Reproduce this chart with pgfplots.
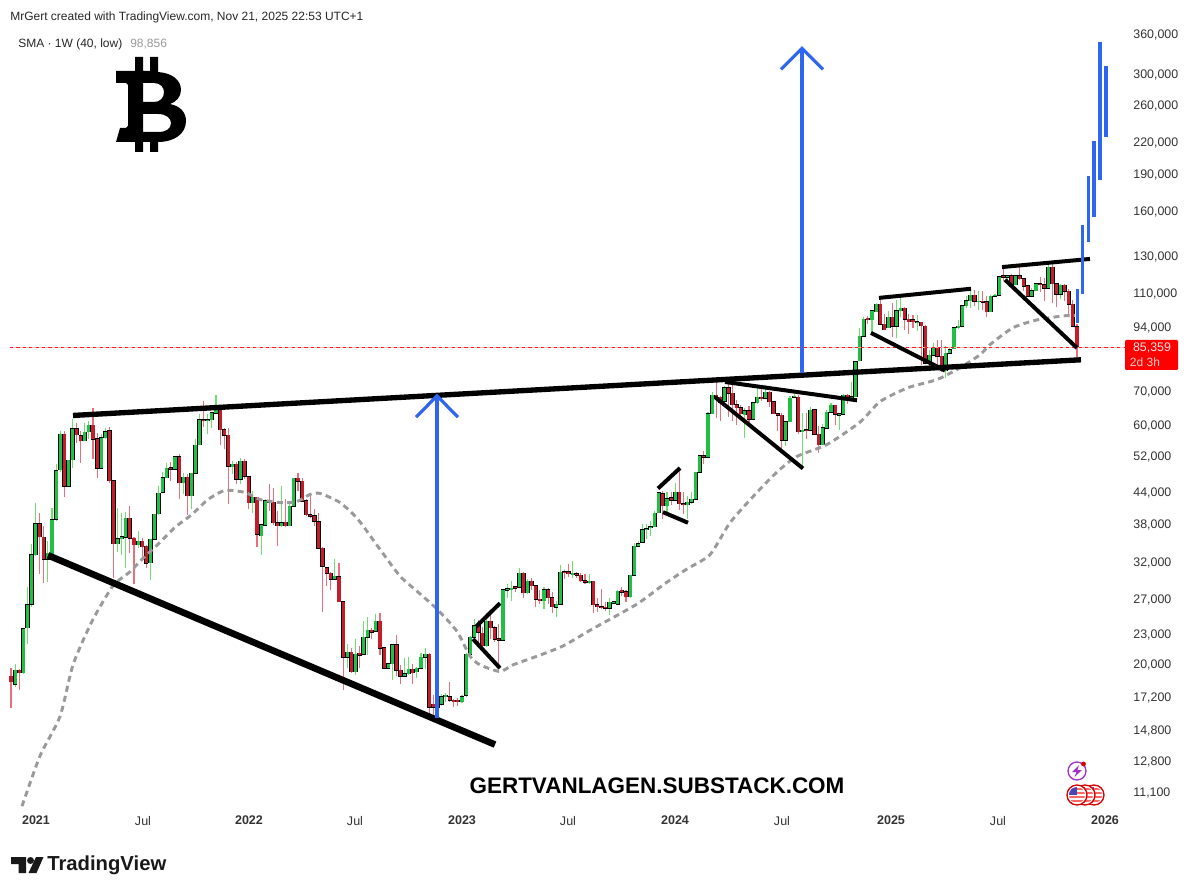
\documentclass[border=0pt]{standalone}
\usepackage{pgfplots}
\usepackage{pgfplotstable}
\usepackage{fontspec}
\setmainfont{Liberation Sans}
\pgfplotsset{compat=1.18}
\definecolor{upbody}{HTML}{1FC044}
\definecolor{dnbody}{HTML}{C41C28}
\definecolor{upwick}{HTML}{6FE06F}
\definecolor{dnwick}{HTML}{E8707C}
\definecolor{tvblue}{HTML}{2E66F0}
\definecolor{smagray}{HTML}{9A9A9A}
\definecolor{labelgray}{HTML}{333333}
\definecolor{lastprice}{HTML}{FF1A1A}
\definecolor{lastpale}{HTML}{F9BDBD}
% weekly candles, prices in thousands of USD: week, up(1)/down(0), low, body low, body high, high
\pgfplotstableread{
i d wl bl bh wh
0 0 16.3 18.4 18.9 19.6
1 1 18.0 18.2 19.4 20.0
2 0 17.7 19.2 19.4 19.5
3 1 19.1 19.2 23.5 23.6
4 1 21.9 23.6 26.2 28.4
5 1 26.0 26.3 33.0 34.7
6 1 32.8 33.0 38.0 41.9
7 0 30.2 35.8 38.0 40.0
8 0 29.0 32.3 35.7 37.7
9 1 29.1 32.3 33.2 35.1
10 1 32.5 32.8 38.7 40.9
11 1 38.5 38.8 48.5 50.0
12 1 48.3 48.7 57.3 58.2
13 0 43.0 45.2 57.3 58.2
14 1 45.0 45.2 50.9 51.0
15 1 49.2 51.0 58.8 61.4
16 0 55.2 57.2 58.8 60.5
17 0 50.3 55.6 57.0 58.2
18 1 55.5 55.6 57.9 60.3
19 1 56.0 58.0 59.7 60.9
20 0 51.1 56.0 59.7 64.7
21 0 47.0 49.0 56.2 57.8
22 1 48.8 49.0 56.4 57.3
23 1 56.0 56.4 58.0 59.1
24 0 45.9 46.3 58.2 59.3
25 0 29.7 34.7 46.3 46.4
26 1 33.4 34.7 35.5 40.9
27 1 33.0 35.5 35.8 40.0
28 1 31.1 35.7 39.0 40.1
29 0 33.3 35.6 39.0 41.2
30 0 28.9 34.5 35.6 35.7
31 1 34.0 34.5 35.1 36.7
32 0 32.2 34.2 35.1 35.6
33 0 31.1 31.7 34.3 34.5
34 1 29.4 31.8 35.4 35.5
35 1 35.3 35.4 39.7 39.8
36 1 39.6 39.8 43.7 45.2
37 1 43.7 43.9 47.0 48.3
38 1 46.8 47.0 49.0 50.3
39 0 46.2 48.8 49.2 50.4
40 1 48.6 48.8 51.7 52.0
41 0 42.5 45.9 51.7 52.3
42 1 43.5 45.9 47.1 48.0
43 0 39.6 43.2 47.1 47.8
44 1 40.6 43.2 47.9 48.0
45 1 47.8 48.0 54.5 56.0
46 1 54.5 54.7 61.3 62.8
47 0 59.4 61.0 61.3 66.9
48 1 57.3 61.0 61.3 62.8
49 1 59.1 61.3 63.2 63.6
50 1 62.8 63.2 65.2 68.6
51 0 54.7 58.6 65.2 65.7
52 0 53.5 57.1 58.6 59.1
53 0 41.7 49.5 57.1 59.1
54 1 47.7 49.4 50.0 50.8
55 0 45.6 46.6 50.0 50.4
56 1 45.6 46.6 50.7 51.5
57 0 46.6 47.3 50.7 51.1
58 0 40.6 41.9 47.2 47.3
59 1 40.0 41.9 42.9 44.2
60 0 34.1 36.2 42.9 43.0
61 1 33.0 36.0 37.8 37.9
62 1 37.7 37.8 42.3 42.6
63 0 40.3 42.0 42.3 45.7
64 0 37.8 38.2 42.0 44.7
65 0 34.3 37.7 38.2 40.3
66 1 37.5 37.7 38.2 45.2
67 0 37.4 37.7 38.3 42.5
68 1 37.6 37.7 41.2 41.9
69 1 41.1 41.2 46.8 46.9
70 0 44.2 46.2 46.8 48.0
71 0 42.0 42.2 46.2 46.9
72 0 39.4 39.6 42.2 42.5
73 0 39.0 39.4 39.6 43.1
74 0 37.6 38.5 39.4 40.7
75 0 33.9 34.0 38.4 40.0
76 0 25.4 31.3 34.0 34.1
77 0 28.6 30.3 31.1 31.2
78 0 28.0 29.5 30.3 30.5
79 1 29.4 29.5 29.9 32.4
80 0 26.5 26.6 29.8 31.7
81 0 17.7 20.6 26.6 26.7
82 1 19.6 20.6 21.1 21.9
83 0 19.2 19.3 21.1 21.5
84 1 19.0 19.3 20.9 22.4
85 0 19.6 20.8 21.0 21.7
86 1 20.8 20.9 22.6 24.3
87 1 20.8 22.6 23.3 24.8
88 0 22.4 23.1 23.3 23.6
89 1 23.1 23.2 24.3 25.1
90 0 20.8 21.5 24.3 25.3
91 0 19.5 19.6 21.5 21.6
92 1 19.5 19.6 20.0 20.1
93 1 18.6 20.0 21.8 21.9
94 0 18.9 19.4 21.8 22.8
95 0 18.2 18.9 19.4 19.9
96 1 18.8 18.9 19.1 20.5
97 1 19.0 19.1 19.5 20.6
98 0 18.2 19.2 19.5 20.0
99 1 18.7 19.3 19.6 19.7
100 1 19.5 19.6 20.6 21.0
101 1 19.5 20.6 20.9 21.5
102 0 15.7 16.4 20.9 21.0
103 0 15.8 16.4 16.6 17.3
104 1 15.6 16.4 16.7 17.3
105 1 16.5 16.6 17.2 17.4
106 1 16.8 17.2 17.3 17.5
107 0 16.8 16.9 17.2 18.4
108 0 16.4 16.8 16.9 17.0
109 0 16.5 16.8 16.9 17.1
110 1 16.7 16.8 17.2 17.3
111 1 17.2 17.3 20.9 21.0
112 1 20.8 20.9 22.6 22.7
113 1 22.6 22.6 23.8 24.6
114 0 21.7 23.1 23.8 24.4
115 0 21.4 21.7 23.0 23.7
116 1 21.6 21.7 24.3 25.3
117 0 22.4 23.6 24.3 25.1
118 0 22.1 22.4 23.6 23.8
119 0 19.6 22.3 22.4 24.0
120 1 22.2 22.3 28.1 28.2
121 1 27.1 28.0 28.2 28.9
122 1 26.7 28.1 28.3 29.2
123 0 27.8 28.3 28.5 28.6
124 1 28.3 28.4 30.3 31.0
125 0 27.1 27.7 30.3 30.4
126 1 27.6 27.7 29.2 29.5
127 0 28.1 28.6 29.2 29.7
128 0 25.9 26.9 28.6 28.7
129 0 26.3 26.7 26.9 28.0
130 1 25.7 26.7 28.1 28.4
131 0 26.3 27.1 28.1 28.3
132 0 25.3 26.0 27.1 27.8
133 1 24.8 25.9 26.3 26.7
134 1 26.2 26.3 30.4 31.5
135 0 29.5 30.4 30.5 30.7
136 0 29.8 30.2 30.5 31.6
137 1 29.6 30.1 30.3 32.0
138 0 29.7 30.0 30.2 30.4
139 0 29.1 29.3 30.0 30.3
140 0 28.9 29.1 29.3 30.2
141 1 28.8 29.0 29.2 30.2
142 0 25.3 26.2 29.2 29.3
143 0 25.4 26.0 26.2 27.1
144 0 25.7 25.9 26.0 28.2
145 0 25.5 25.8 25.9 26.6
146 1 25.0 25.8 26.5 27.0
147 1 26.3 26.4 26.6 26.7
148 1 26.2 26.3 27.9 28.0
149 0 27.3 27.8 28.0 28.4
150 0 26.6 27.2 27.8 28.0
151 1 27.1 27.2 30.0 30.1
152 1 29.9 30.0 34.3 34.8
153 1 34.2 34.3 34.7 35.1
154 1 34.8 34.9 37.0 37.9
155 1 35.4 37.0 37.2 37.9
156 1 35.9 37.3 37.5 38.5
157 1 37.4 37.5 39.9 40.3
158 1 39.9 40.0 43.8 44.0
159 0 38.8 41.3 43.6 44.1
160 1 39.9 41.3 42.6 44.0
161 0 41.4 42.4 42.8 44.0
162 1 42.2 42.4 43.9 45.9
163 0 40.5 41.7 43.9 49.2
164 0 39.8 41.5 41.7 44.0
165 1 38.8 41.5 42.0 43.1
166 1 41.7 42.0 42.5 44.0
167 1 42.4 42.5 48.2 48.3
168 1 48.1 48.2 52.0 52.2
169 0 50.0 51.6 52.0 53.1
170 1 51.5 51.6 63.0 63.4
171 1 62.8 63.0 68.6 69.5
172 0 61.8 67.7 68.6 73.7
173 0 60.9 66.2 67.9 68.2
174 1 66.6 66.8 70.9 71.5
175 0 62.0 69.2 70.9 73.0
176 0 60.9 65.7 69.2 72.3
177 0 59.9 64.7 65.7 67.2
178 0 62.0 63.0 64.7 65.5
179 1 56.4 62.7 63.9 64.6
180 0 60.4 61.4 63.9 65.2
181 1 61.3 61.4 66.2 66.3
182 1 66.0 66.2 67.9 71.8
183 0 66.8 67.5 67.9 70.8
184 1 67.6 67.7 69.5 71.8
185 0 64.9 66.5 69.5 69.8
186 0 62.8 63.0 66.5 66.8
187 0 58.2 62.6 63.0 63.1
188 0 53.5 55.8 62.6 63.2
189 1 54.4 55.8 60.7 61.0
190 1 60.6 60.7 67.7 68.3
191 1 67.7 67.9 68.2 69.4
192 0 57.5 58.0 67.9 68.6
193 1 49.2 58.0 58.4 63.2
194 0 56.0 58.4 58.6 63.2
195 1 58.2 58.4 64.0 65.0
196 0 57.2 57.3 64.2 64.4
197 0 52.7 54.7 57.3 59.5
198 1 54.6 54.7 59.0 60.0
199 1 58.9 59.0 63.4 64.2
200 1 63.3 63.4 65.5 66.2
201 0 59.9 62.8 65.5 65.7
202 1 58.6 62.6 63.0 63.2
203 1 62.6 62.8 68.6 69.1
204 0 66.0 67.5 68.6 68.9
205 1 67.6 67.9 68.1 73.0
206 1 67.9 68.1 80.0 80.3
207 1 80.1 80.3 89.8 93.4
208 1 89.6 89.8 97.2 98.0
209 0 94.9 96.9 97.6 98.6
210 1 91.3 96.9 101.0 101.2
211 1 100.5 100.7 104.2 104.5
212 0 94.7 94.9 104.2 108.0
213 0 92.4 92.6 94.9 99.5
214 1 93.2 93.4 98.0 101.0
215 0 89.5 94.2 98.0 104.5
216 1 89.3 94.2 101.0 106.0
217 1 98.0 101.0 102.3 109.0
218 0 92.6 97.2 102.3 103.0
219 0 91.0 96.1 97.2 99.5
220 0 93.5 96.1 96.9 99.0
221 1 92.2 95.7 96.1 99.0
222 0 78.9 94.3 95.9 96.0
223 0 79.3 79.5 94.2 94.5
224 1 76.5 79.8 82.3 84.5
225 1 82.1 82.3 85.5 87.0
226 0 78.9 82.0 85.5 88.4
227 0 76.3 76.7 82.0 88.4
228 1 74.3 76.7 83.2 86.0
229 1 83.0 83.2 84.5 85.0
230 1 84.7 84.9 93.4 94.0
231 1 93.0 93.4 94.2 97.0
232 1 94.0 94.2 103.5 104.0
233 1 102.5 103.5 105.9 108.0
234 1 102.5 105.9 108.5 112.0
235 0 103.3 105.6 108.5 111.0
236 1 101.5 105.3 105.6 110.5
237 0 101.5 105.2 105.5 110.5
238 0 98.0 100.7 105.3 108.0
239 1 100.5 100.7 108.0 108.8
240 1 107.8 108.0 108.6 108.9
241 1 108.4 108.6 118.2 118.6
242 0 115.8 117.9 118.7 122.5
243 1 116.0 117.9 118.7 119.0
244 0 112.5 113.2 118.7 119.4
245 1 113.6 114.0 118.7 119.0
246 0 116.6 117.0 118.7 124.5
247 0 110.8 113.2 117.0 117.5
248 0 107.9 108.0 113.2 113.3
249 1 107.7 108.0 110.8 112.0
250 1 110.6 110.8 114.4 115.0
251 0 110.0 113.9 114.4 117.9
252 0 105.6 112.2 114.0 117.3
253 1 112.0 112.2 123.5 125.5
254 0 104.5 114.4 123.5 126.0
255 0 103.0 109.0 114.4 114.7
256 1 106.5 109.0 113.6 114.4
257 0 105.6 110.5 113.6 114.4
258 0 99.7 104.2 110.5 111.5
259 0 93.8 94.2 104.2 106.2
260 0 80.7 85.2 94.0 95.0
}\candles
\newcommand{\wick}[2]{\addplot[draw=none,mark=none,forget plot,restrict expr to domain={\thisrow{d}}{#1:#1},
  error bars/.cd,y dir=plus,y explicit,error mark=none,error bar style={draw=#2,line width=0.8pt,line cap=butt}]
  table[x expr=11+4.1*\thisrow{i},y=wl,y error plus expr=\thisrow{wh}-\thisrow{wl}] {\candles};}
\newcommand{\bodyframe}[1]{\addplot[draw=none,mark=none,forget plot,restrict expr to domain={\thisrow{d}}{#1:#1},
  error bars/.cd,y dir=plus,y explicit,error mark=none,error bar style={draw=black,line width=3.2pt,line cap=butt}]
  table[x expr=11+4.1*\thisrow{i},y expr=\thisrow{bl}*0.9975,y error plus expr=\thisrow{bh}*1.0025-\thisrow{bl}*0.9975] {\candles};}
\newcommand{\bodyfill}[2]{\addplot[draw=none,mark=none,forget plot,restrict expr to domain={\thisrow{d}}{#1:#1},
  error bars/.cd,y dir=plus,y explicit,error mark=none,error bar style={draw=#2,line width=2.3pt,line cap=butt}]
  table[x expr=11+4.1*\thisrow{i},y=bl,y error plus expr=\thisrow{bh}-\thisrow{bl}] {\candles};}
\begin{document}
\begin{tikzpicture}
\path[use as bounding box] (0,0) rectangle (900pt,670.5pt);
\begin{axis}[
  at={(7.5pt,66pt)},anchor=south west,scale only axis,
  width=834pt,height=586.5pt,
  xmin=10,xmax=1122,ymode=log,ymin=10.41,ymax=376.9,
  axis line style={draw=none},clip=false,
  major tick length=0pt,minor tick length=0pt,
  xtick={36,143,249,355,462,568,675,782,891,998,1105},
  xticklabels={\textbf{2021},Jul,\textbf{2022},Jul,\textbf{2023},Jul,\textbf{2024},Jul,\textbf{2025},Jul,\textbf{2026}},
  xticklabel style={font=\fontsize{9.4}{11}\selectfont,text=labelgray,anchor=center,yshift=-11pt},
  ytick={360,300,260,220,190,160,130,110,94,70,60,52,44,38,32,27,23,20,17.2,14.8,12.8,11.1},
  yticklabels={{360,000},{300,000},{260,000},{220,000},{190,000},{160,000},{130,000},{110,000},{94,000},{70,000},{60,000},{52,000},{44,000},{38,000},{32,000},{27,000},{23,000},{20,000},{17,200},{14,800},{12,800},{11,100}},
  yticklabel pos=right,
  yticklabel style={font=\fontsize{9.3}{11}\selectfont,text=labelgray,anchor=west,xshift=5pt,yshift=-1pt},
]
\wick{1}{upwick}
\wick{0}{dnwick}
\bodyframe{1}
\bodyframe{0}
\bodyfill{1}{upbody}
\bodyfill{0}{dnbody}
% last price line
\addplot[lastpale,line width=1pt,forget plot] coordinates {(10,85.359) (1126,85.359)};
\addplot[lastprice,line width=1.2pt,dash pattern=on 2.4pt off 2.4pt,forget plot] coordinates {(10,85.359) (1126,85.359)};
% 40-week SMA of the lows
\addplot[smagray,line width=2.2pt,dash pattern=on 4.5pt off 3.2pt,smooth,tension=0.4,forget plot] coordinates {
(22,10.4)(40,13.1)(60,15.7)(73,19.9)(92,24.3)(113,28.6)(130,30.5)(142,32.3)(158,34.6)(175,37.4)(192,39.7)(208,42.5)(225,44.3)(245,43.9)(260,42.5)(280,41.9)(297,42.1)(310,43.5)(320,43.7)(340,41.9)(358,38.8)(380,33.8)(400,29.9)(417,27.9)(437,25.7)(457,23.2)(470,20.7)(480,19.9)(500,19.3)(513,19.9)(537,20.7)(563,21.7)(593,23.5)(637,26.3)(665,28.9)(687,30.9)(710,33.0)(730,38.2)(755,43.5)(777,48.2)(797,51.8)(827,54.7)(860,60.6)(880,66.6)(908,71.0)(937,73.7)(960,77.8)(980,82.6)(990,86.5)(1013,93.5)(1037,96.9)(1063,98.7)(1075,98.9)};
% trend lines
\addplot[black,line width=4pt,forget plot] coordinates {(73,62.5)(1081,80.7)};
\addplot[black,line width=5pt,forget plot] coordinates {(48,32.9)(495,13.8)};
\addplot[black,line width=3pt,forget plot] coordinates {(476,23.7)(500,26.4)};
\addplot[black,line width=3pt,forget plot] coordinates {(473,22.4)(500,19.6)};
\addplot[black,line width=3pt,forget plot] coordinates {(658,44.7)(680,49.1)};
\addplot[black,line width=3pt,forget plot] coordinates {(663,40.1)(688,38.2)};
\addplot[black,line width=3pt,forget plot] coordinates {(725,72.9)(857,67)};
\addplot[black,line width=3pt,forget plot] coordinates {(715,68)(803,49)};
\addplot[black,line width=3pt,forget plot] coordinates {(879,107.2)(971,111.8)};
\addplot[black,line width=3pt,forget plot] coordinates {(871,91.3)(945,76.8)};
\addplot[black,line width=3pt,forget plot] coordinates {(1002,123.5)(1090,128.2)};
\addplot[black,line width=3pt,forget plot] coordinates {(1005,116.5)(1077,85.2)};
% blue arrows and projection bars
\addplot[tvblue,line width=2.8pt,forget plot] coordinates {(437,15.6)(437,68.4)};
\addplot[tvblue,line width=2.4pt,forget plot] coordinates {(416,62)(437,68.4)(458,62)};
\addplot[tvblue,line width=2.8pt,forget plot] coordinates {(802,76)(802,337)};
\addplot[tvblue,line width=2.4pt,forget plot] coordinates {(781,306)(802,337)(823,306)};
\addplot[tvblue,line width=2.4pt,forget plot] coordinates {(1077.3,95.5)(1077.3,111.8)};
\addplot[tvblue,line width=2.4pt,forget plot] coordinates {(1082.3,109.2)(1082.3,149.8)};
\addplot[tvblue,line width=2.4pt,forget plot] coordinates {(1088.3,138.5)(1088.3,187.6)};
\addplot[tvblue,line width=2.4pt,forget plot] coordinates {(1094,155.5)(1094,220.3)};
\addplot[tvblue,line width=2.4pt,forget plot] coordinates {(1100,184.2)(1100,347)};
\addplot[tvblue,line width=2.4pt,forget plot] coordinates {(1106,224.3)(1106,310.8)};
\end{axis}
\begin{scope}[x=0.75pt,y=-0.75pt,yshift=670.5pt]
\node[anchor=west,inner sep=0,font=\fontsize{9}{11}\selectfont,text=black!85] at (10,17) {MrGert created with TradingView.com, Nov 21, 2025 22:53 UTC+1};
\node[anchor=west,inner sep=0,font=\fontsize{9}{11}\selectfont,text=black!85] at (18,44) {SMA · 1W (40, low)};
\node[anchor=west,inner sep=0,font=\fontsize{9}{11}\selectfont,text=black!40] at (130,44) {98,856};
% bitcoin mark
\fill[black,even odd rule]
 (116,71)--(135,71)--(135,57)--(143,57)--(143,71)--(150,71)--(150,57)--(158,57)--(158,72)
 .. controls (172,73) and (181,80) .. (181,90) .. controls (181,97) and (176,102) .. (170,104)
 .. controls (180,106) and (186,112) .. (186,121) .. controls (186,134) and (174,142) .. (158,142)
 --(158,152)--(150,152)--(150,142)--(143,142)--(143,152)--(135,152)--(135,142)--(116,142)
 --(120,128)--(126,128)--(128,126)--(128,85)--(126,83)--(116,83)--cycle
 (143,83)--(154,83) .. controls (161,83) and (164,88) .. (164,92) .. controls (164,98) and (160,102) .. (154,102)--(143,102)--cycle
 (143,114)--(158,114) .. controls (166,114) and (171,118) .. (171,123) .. controls (171,129) and (166,132) .. (158,132)--(143,132)--cycle;
\node[inner sep=0,font=\bfseries\fontsize{16.85}{18}\selectfont] at (657,786) {GERTVANLAGEN.SUBSTACK.COM};
% price tag
\fill[red,rounded corners=0.8pt] (1125,340) rectangle (1178,370);
\node[inner sep=0,text=white!90!red,font=\fontsize{9.3}{11}\selectfont] at (1152,348) {85,359};
\node[inner sep=0,text=white!80!red,font=\fontsize{9}{11}\selectfont] at (1145,362) {2d 3h};
% TradingView logo
\fill[black!90] (11,857)--(26,857)--(26,873)--(18.5,873)--(18.5,864)--(11,864)--cycle;
\fill[black!90] (30.5,860.5) circle (3.5);
\fill[black!90] (36,857)--(43.5,857)--(36.5,873)--(28.5,873)--cycle;
\node[anchor=west,inner sep=0,font=\bfseries\fontsize{15.2}{17}\selectfont,text=black!90] at (47,865) {TradingView};
% event icons
\definecolor{evp}{HTML}{A333C8}
\draw[evp,line width=1pt] (1077,771) circle (9);
\fill[evp] (1079,765)--(1072,772)--(1076.5,772)--(1074.5,777)--(1082,770)--(1077.5,770)--cycle;
\fill[red!85!black] (1083.5,764) circle (2.4);
\foreach \cx in {1094,1085,1077}{
 \begin{scope}
 \fill[white] (\cx,795) circle (10);
 \clip (\cx,795) circle (8);
 \foreach \s in {788,792,796,800}{\fill[red!60] (\cx-9,\s) rectangle (\cx+9,\s+2);}
 \fill[blue!45!gray] (\cx-8,786) rectangle (\cx,795);
 \end{scope}
 \draw[red!85!black,line width=1pt] (\cx,795) circle (10);
}
\end{scope}
\end{tikzpicture}
\end{document}
